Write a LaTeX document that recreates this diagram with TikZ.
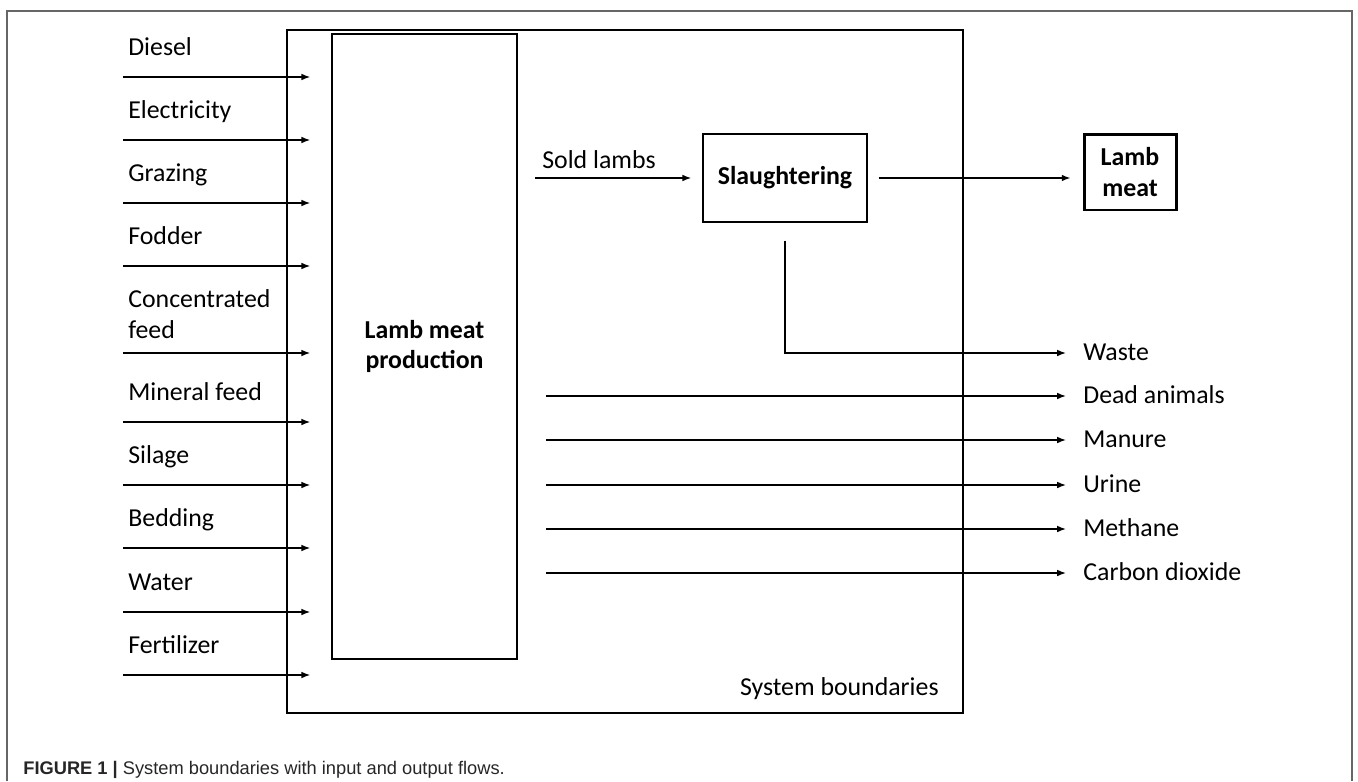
\documentclass[tikz,border=0pt]{standalone}
\usepackage{fontspec}
\setmainfont{Carlito}
\newfontfamily\capfont{Liberation Sans}
\usetikzlibrary{arrows.meta}
\newcommand\lmfont{\fontsize{14.7}{17.6}\selectfont}
\tikzset{box/.style={draw,line width=0.85pt,inner sep=0pt,align=center},
	flow/.style={draw,line width=0.85pt,-{Latex[length=5pt,width=3.8pt]}},
	inlabel/.style={anchor=base west,inner sep=0pt,align=left},
	outlabel/.style={anchor=west,inner sep=0pt,text height=0.28cm,text depth=0pt}}

\begin{document}
\begin{tikzpicture}
	[x=0.02cm,y=-0.02cm,every node/.style={font=\lmfont}]
	\useasboundingbox (0,0) rectangle (1358,781);
	\draw [black!60,line width=1.1pt] (7,781) |- (1352,11) -- (1352,781);

	\node [box,minimum width=13.52cm,minimum height=13.66cm] (sysb) at (625,371.5) {};
	\node [anchor=base east,inner sep=0pt] (sysblbl) at (939,695) {System boundaries};

	\node [box,font=\lmfont\bfseries,minimum width=3.7cm,minimum height=12.5cm] (prod) at (424.5,346.5) {Lamb meat\\production};
	\node [box,font=\lmfont\bfseries,minimum width=3.28cm,minimum height=1.76cm] (slaughter) at (785,178) {Slaughtering};
	\node [box,line width=1.7pt,font=\lmfont\bfseries,minimum width=1.84cm,minimum height=1.52cm] (lamb) at (1130,172) {Lamb\\meat};

	\foreach \txt/\y/\d [count=\i] in {Diesel/77/22, Electricity/140/22, Grazing/203/22, Fodder/266/22,
			{Concentrated\\feed}/353/15, Mineral feed/422/22, Silage/485/22, Bedding/548/22, Water/612/22,
			Fertilizer/675/22}
		{
			\coordinate (in\i) at (123,\y);
			\node [inlabel] (inlbl\i) at (128,\y-\d) {\txt};
			\draw [flow,shorten >=0.42cm] (in\i) -- (in\i -| prod.west);
		}

	\coordinate (sold) at (535,178);
	\node [inlabel] (soldlbl) at (542,168) {Sold lambs};
	\draw [flow,shorten >=0.22cm] (sold) -- (slaughter.west);
	\draw [flow,shorten <=0.22cm,shorten >=0.24cm] (slaughter.east) -- (slaughter.east -| lamb.west);

	\node [outlabel] (waste) at (1083,353) {Waste};
	\draw [flow,shorten >=0.34cm] ([yshift=-0.36cm]slaughter.south) |- (waste.west);

	\foreach \txt/\y [count=\i] in {Dead animals/396, Manure/440, Urine/485, Methane/529, Carbon dioxide/573}
		{
			\coordinate (out\i) at (546,\y);
			\node [outlabel] (outlbl\i) at (1083,\y) {\txt};
			\draw [flow,shorten >=0.34cm] (out\i) -- (outlbl\i.west);
		}

	\node [anchor=base west,inner sep=0pt,text=black!85,font=\capfont\fontsize{10.4}{12}\selectfont] (caption) at (23,774)
	{\textbf{FIGURE 1 |} System boundaries with input and output flows.};
\end{tikzpicture}
\end{document}
